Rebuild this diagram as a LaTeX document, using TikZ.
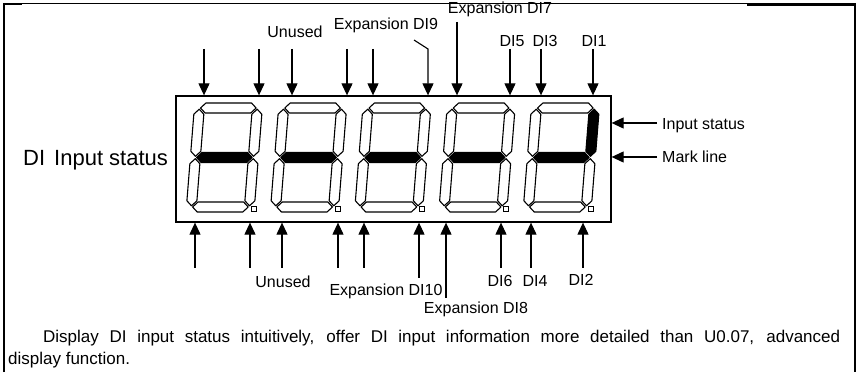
\documentclass[tikz,border=0pt]{standalone}
\usepackage{fontspec}
\setmainfont{Liberation Sans}
\usetikzlibrary{arrows.meta}
\newcommand\myhseg[4]{\path[#1] ({#2},{#4}) -- ({#2+5},{#4+5}) -- ({#3-5},{#4+5}) -- ({#3},{#4}) -- ({#3-5},{#4-5}) -- ({#2+5},{#4-5}) -- cycle;}
\newcommand\myvseg[4]{\path[#1] ({#2},{#3}) -- ({#2+5},{#3+5}) -- ({#2+5},{#4-5}) -- ({#2},{#4}) -- ({#2-5},{#4-5}) -- ({#2-5},{#3+5}) -- cycle;}
\newcommand\mydigit[3]{%
  \begin{scope}[shift={({#1},160)}, xslant=0.08]
    \myhseg{seg}{6.2}{61.8}{104}
    \myhseg{#2}{6.2}{61.8}{54.5}
    \myhseg{seg}{6.2}{61.8}{5}
    \myvseg{seg}{5}{6.2}{53.3}
    \myvseg{seg}{5}{55.7}{102.8}
    \myvseg{seg}{63}{6.2}{53.3}
    \myvseg{#3}{63}{55.7}{102.8}
  \end{scope}
  \draw[dp] ({#1+65},161) rectangle ++(5,5);}
\begin{document}
\begin{tikzpicture}[x=1pt,y=1pt,
  seg/.style={draw=black, line width=1.1pt, line join=round, fill=white},
  segon/.style={draw=black, line width=1.1pt, line join=round, fill=black},
  dp/.style={draw=black, line width=0.9pt},
  arr/.style={line width=1.1pt, -{Triangle[length=12pt,width=11pt]}},
  lbl/.style={font=\fontsize{16}{18}\selectfont, inner sep=0pt, anchor=base},
  frame/.style={line width=1.6pt}]
\useasboundingbox (0,0) rectangle (859,372);
% outer frame
\draw[frame] (4,0) -- (4,368.5);
\draw[line width=2.2pt] (3,368) -- (22,368);
\draw[line width=1.3pt] (22,368.5) -- (747,368.5);
\draw[line width=2.4pt] (747,367.5) -- (856,367.5);
\draw[line width=2.4pt] (855,368.7) -- (855,0);
% display box
\node[draw, line width=1.3pt, minimum width=435pt, minimum height=126pt, inner sep=0pt] (box) at (393.5,213) {};
% digits
\mydigit{186}{segon}{seg}
\mydigit{270.25}{segon}{seg}
\mydigit{354.5}{segon}{seg}
\mydigit{438.75}{segon}{seg}
\mydigit{523}{segon}{segon}
% top arrows
\foreach \x/\n in {204/1,259/2,292/3,347/4,373/5,510/8,541/9,593/10}{
  \coordinate (ta\n) at (\x,323);
  \draw[arr] (ta\n) -- (ta\n |- box.north);}
\coordinate (ta7) at (457,350);
\draw[arr] (ta7) -- (ta7 |- box.north);
\coordinate (ta6s) at (414,332);
\coordinate (ta6) at (428,323);
\draw[arr] (ta6s) -- (ta6) -- (ta6 |- box.north);
% bottom arrows
\foreach \x/\n in {195/1,250/2,282/3,338/4,364/5,501/8,531/9,583/10}{
  \coordinate (ba\n) at (\x,104);
  \draw[arr] (ba\n) -- (ba\n |- box.south);}
\coordinate (ba6) at (419,94);
\draw[arr] (ba6) -- (ba6 |- box.south);
\coordinate (ba7) at (446,74);
\draw[arr] (ba7) -- (ba7 |- box.south);
% right arrows
\coordinate (ris) at (657,249);
\coordinate (rml) at (657,215);
\draw[arr] (ris) -- (ris -| box.east);
\draw[arr] (rml) -- (rml -| box.east);
% labels
\node[lbl] (lunt) at (295,334) {Unused};
\node[lbl] (l9) at (386,342.7) {Expansion DI9};
\node[lbl] (l7) at (500,358.5) {Expansion DI7};
\node[lbl] (l5) at (512,325) {DI5};
\node[lbl] (l3) at (545,325) {DI3};
\node[lbl] (l1) at (594,325) {DI1};
\node[lbl, anchor=base west] (lis) at (662,242) {Input status};
\node[lbl, anchor=base west] (lml) at (662,209) {Mark line};
\node[anchor=base west, inner sep=0pt, font=\fontsize{22}{24}\selectfont] (ldi) at (23,206) {DI\hspace{9pt}Input status};
\node[lbl] (lunb) at (283,84) {Unused};
\node[lbl] (l10) at (386,76) {Expansion DI10};
\node[lbl] (l8) at (476,58) {Expansion DI8};
\node[lbl] (l6) at (500,85) {DI6};
\node[lbl] (l4) at (535,85) {DI4};
\node[lbl] (l2) at (581,86) {DI2};
% paragraph
\node[anchor=base west, inner sep=0pt, font=\fontsize{17}{20}\selectfont] (p1) at (43,29.3) {\makebox[797pt][s]{Display DI input status intuitively, offer DI input information more detailed than U0.07, advanced}};
\node[anchor=base west, inner sep=0pt, font=\fontsize{17}{20}\selectfont] (p2) at (8,7) {display function.};
\end{tikzpicture}
\end{document}
